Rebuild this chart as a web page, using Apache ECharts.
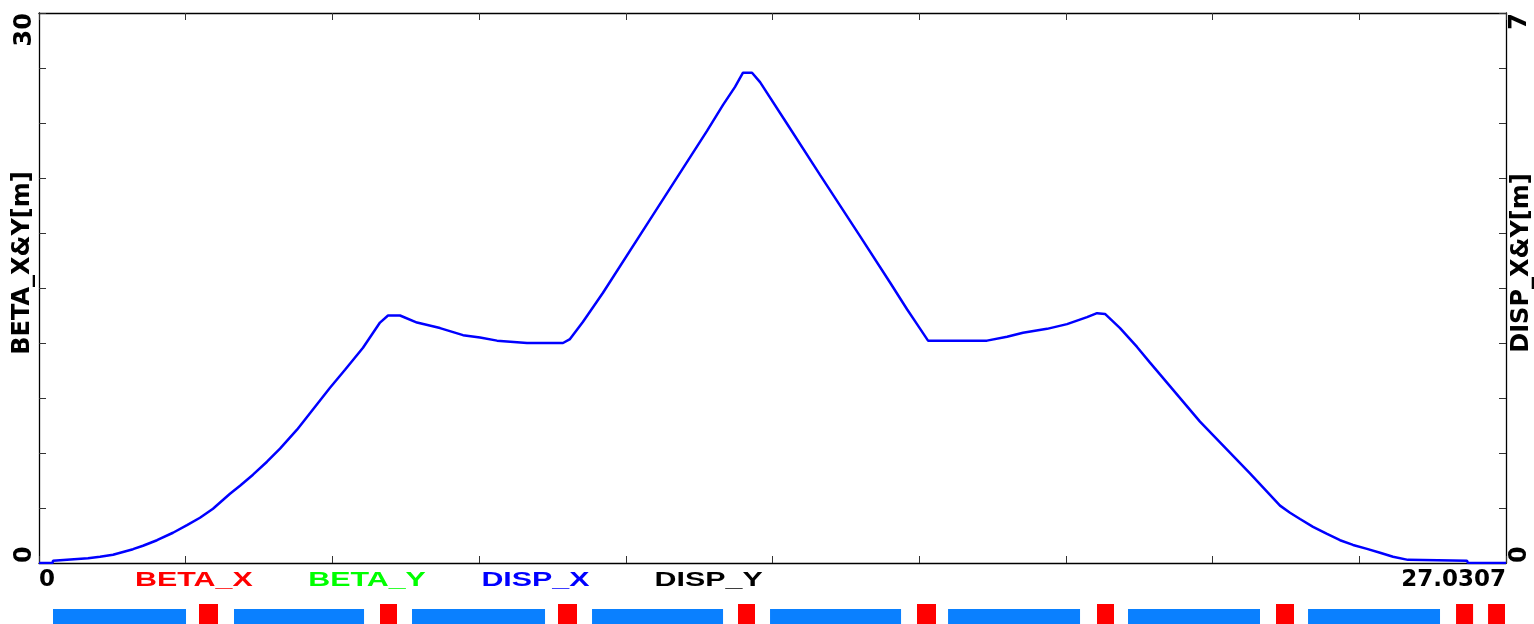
<!DOCTYPE html>
<html><head><meta charset="utf-8">
<script src="https://cdn.jsdelivr.net/npm/echarts@6/dist/echarts.min.js"></script>
<style>html,body{margin:0;padding:0;background:#fff;overflow:hidden}#c{width:1534px;height:624px}</style>
</head><body><div id="c"></div>
<script>
// ---- data ----
const sMin = 0;
const sMax = 27.0307;
const betaMax = 30;
const dispMax = 7;
const legendNames = ['BETA_X', 'BETA_Y', 'DISP_X', 'DISP_Y'];
const legendColors = ['#ff0000', '#00ff00', '#0000ff', '#000000'];
// s positions [m] and horizontal dispersion DISP_X [m]
const sPts  = [0, 0.25, 0.258, 0.903, 1.124, 1.364, 1.732, 1.916, 2.174, 2.469, 2.727, 2.966, 3.206, 3.519, 3.704, 3.943, 4.201, 4.441, 4.754, 5.362,
  5.639, 5.970, 6.283, 6.431, 6.652, 6.965, 7.389, 7.813, 8.126, 8.439, 8.992, 9.655, 9.784, 10.024, 10.392, 11.258, 12.309, 12.604, 12.825,
  12.972, 13.138, 13.286, 13.783, 14.391, 15.128, 15.681, 15.994, 16.178, 16.381, 17.468, 17.837, 18.131, 18.574, 18.942, 19.311, 19.495, 19.642, 19.919,
  20.232, 20.471, 20.655, 21.392, 22.313, 22.867, 23.051, 23.236, 23.475, 23.733, 23.973, 24.212, 24.470, 24.710, 24.949, 25.225, 26.312, 26.33, 27.0307];
const dispX = [0, 0, 0.03, 0.061, 0.080, 0.106, 0.176, 0.220, 0.290, 0.385, 0.481, 0.576, 0.691, 0.882, 0.984, 1.124, 1.289, 1.455, 1.697, 2.23,
  2.46, 2.74, 3.06, 3.15, 3.15, 3.06, 2.99, 2.90, 2.87, 2.83, 2.80, 2.80, 2.85, 3.07, 3.44, 4.37, 5.50, 5.83, 6.06,
  6.24, 6.24, 6.12, 5.59, 4.94, 4.16, 3.57, 3.23, 3.04, 2.83, 2.83, 2.88, 2.93, 2.98, 3.04, 3.13, 3.18, 3.17, 2.99,
  2.75, 2.55, 2.40, 1.80, 1.14, 0.73, 0.64, 0.56, 0.46, 0.37, 0.29, 0.23, 0.18, 0.13, 0.08, 0.04, 0.03, 0, 0];
// lattice: bending magnets and quadrupoles [start, end] in s
const dipoleStart = [0.258, 3.593, 6.873, 10.190, 13.470, 16.750, 20.066, 23.383];
const dipoleEnd   = [2.709, 5.989, 9.324, 12.604, 15.884, 19.182, 22.498, 25.815];
const quadStart   = [2.948, 6.283, 9.563, 12.880, 16.178, 19.495, 22.793, 26.110, 26.700];
const quadEnd     = [3.298, 6.597, 9.913, 13.193, 16.528, 19.808, 23.125, 26.424, 27.012];

// ---- chart ----
const chart = echarts.init(document.getElementById('c'), null, {renderer: 'canvas'});
const GL = 39, GR = 28, GT = 13, GB = 61;
const axisLineStyle = {color: '#000', width: 1.3};
const tickStyle = {color: '#333', width: 1};
const yFont = {fontFamily: 'DejaVu Sans', fontWeight: 'bold', fontSize: 24, color: '#000'};
const xFont = {fontFamily: 'DejaVu Sans', fontWeight: 'bold', fontSize: 23, color: '#000'};

const dispData = sPts.map((s, i) => [s, dispX[i]]);
const dipData = dipoleStart.map((s, i) => [s, dipoleEnd[i]]);
const quadData = quadStart.map((s, i) => [s, quadEnd[i]]);

function rectRenderer(h, color) {
  return function (params, api) {
    const p0 = api.coord([api.value(0), h]);
    const p1 = api.coord([api.value(1), 0]);
    return {type: 'rect', shape: {x: p0[0], y: p0[1], width: p1[0] - p0[0], height: p1[1] - p0[1] + 2}, style: {fill: color}};
  };
}

const graphics = legendNames.map((n, i) => ({
  type: 'text', x: 135 + i * 173.2, y: 580, scaleX: 1.52,
  style: {text: n, fill: legendColors[i], font: 'bold 20px "Liberation Sans", Arial, sans-serif', textAlign: 'left', textVerticalAlign: 'middle'}
}));

const option = {
  animation: false,
  backgroundColor: '#fff',
  grid: [
    {left: GL, right: GR, top: GT, bottom: GB, outerBoundsMode: 'none'},
    {left: GL, right: GR, top: 604, height: 20, outerBoundsMode: 'none'}
  ],
  xAxis: [
    {gridIndex: 0, type: 'value', position: 'bottom', min: sMin, max: sMax, interval: sMax / 10,
      axisLine: {show: true, onZero: false, lineStyle: axisLineStyle},
      axisTick: {show: true, inside: true, length: 7, lineStyle: tickStyle},
      splitLine: {show: false},
      axisLabel: {show: true, interval: 0, margin: 6, showMinLabel: true, showMaxLabel: true,
        alignMinLabel: 'left', alignMaxLabel: 'right', ...xFont,
        formatter: v => (Math.abs(v - sMin) < 1e-6 ? '0' : (Math.abs(v - sMax) < 1e-3 ? String(sMax) : ''))}
    },
    {gridIndex: 0, type: 'value', position: 'top', min: sMin, max: sMax, interval: sMax / 10,
      axisLine: {show: true, onZero: false, lineStyle: axisLineStyle},
      axisTick: {show: true, inside: true, length: 7, lineStyle: tickStyle},
      splitLine: {show: false}, axisLabel: {show: false}
    },
    {gridIndex: 1, type: 'value', min: sMin, max: sMax, show: false}
  ],
  yAxis: [
    {gridIndex: 0, type: 'value', position: 'left', min: 0, max: betaMax, interval: betaMax / 10,
      name: 'BETA_X&Y[m]', nameLocation: 'middle', nameRotate: 90, nameGap: 4, nameMoveOverlap: false,
      nameTextStyle: {...yFont, padding: [0, 0, 0, 50]},
      axisLine: {show: true, onZero: false, lineStyle: axisLineStyle},
      axisTick: {show: true, inside: true, length: 7, lineStyle: tickStyle},
      splitLine: {show: false},
      axisLabel: {show: true, interval: 0, rotate: 90, margin: 2, showMinLabel: true, showMaxLabel: true,
        alignMinLabel: 'left', alignMaxLabel: 'right', ...yFont,
        formatter: v => (v === 0 || v === betaMax) ? String(v) : ''}
    },
    {gridIndex: 0, type: 'value', position: 'right', min: 0, max: dispMax, interval: dispMax / 10,
      name: 'DISP_X&Y[m]', nameLocation: 'middle', nameRotate: 90, nameGap: 4, nameMoveOverlap: false,
      nameTextStyle: {...yFont, padding: [0, 0, 0, 50]},
      axisLine: {show: true, onZero: false, lineStyle: axisLineStyle},
      axisTick: {show: true, inside: true, length: 7, lineStyle: tickStyle},
      splitLine: {show: false},
      axisLabel: {show: true, interval: 0, rotate: 90, margin: 2, showMinLabel: true, showMaxLabel: true,
        alignMinLabel: 'left', alignMaxLabel: 'right', ...yFont,
        formatter: v => (Math.abs(v) < 1e-6 ? '0' : (Math.abs(v - dispMax) < 1e-6 ? String(dispMax) : ''))}
    },
    {gridIndex: 1, type: 'value', min: 0, max: 1, show: false}
  ],
  graphic: graphics,
  series: [
    {name: 'DISP_X', type: 'line', xAxisIndex: 0, yAxisIndex: 1, data: dispData, showSymbol: false,
      lineStyle: {color: '#0000ff', width: 2.5}, itemStyle: {color: '#0000ff'}, z: 5},
    {name: 'Bend', type: 'custom', xAxisIndex: 2, yAxisIndex: 2, data: dipData,
      encode: {x: [0, 1]}, renderItem: rectRenderer(0.75, '#0a80ff')},
    {name: 'Quad', type: 'custom', xAxisIndex: 2, yAxisIndex: 2, data: quadData,
      encode: {x: [0, 1]}, renderItem: rectRenderer(1, '#ff0000')}
  ]
};
chart.setOption(option);
</script>
</body></html>
